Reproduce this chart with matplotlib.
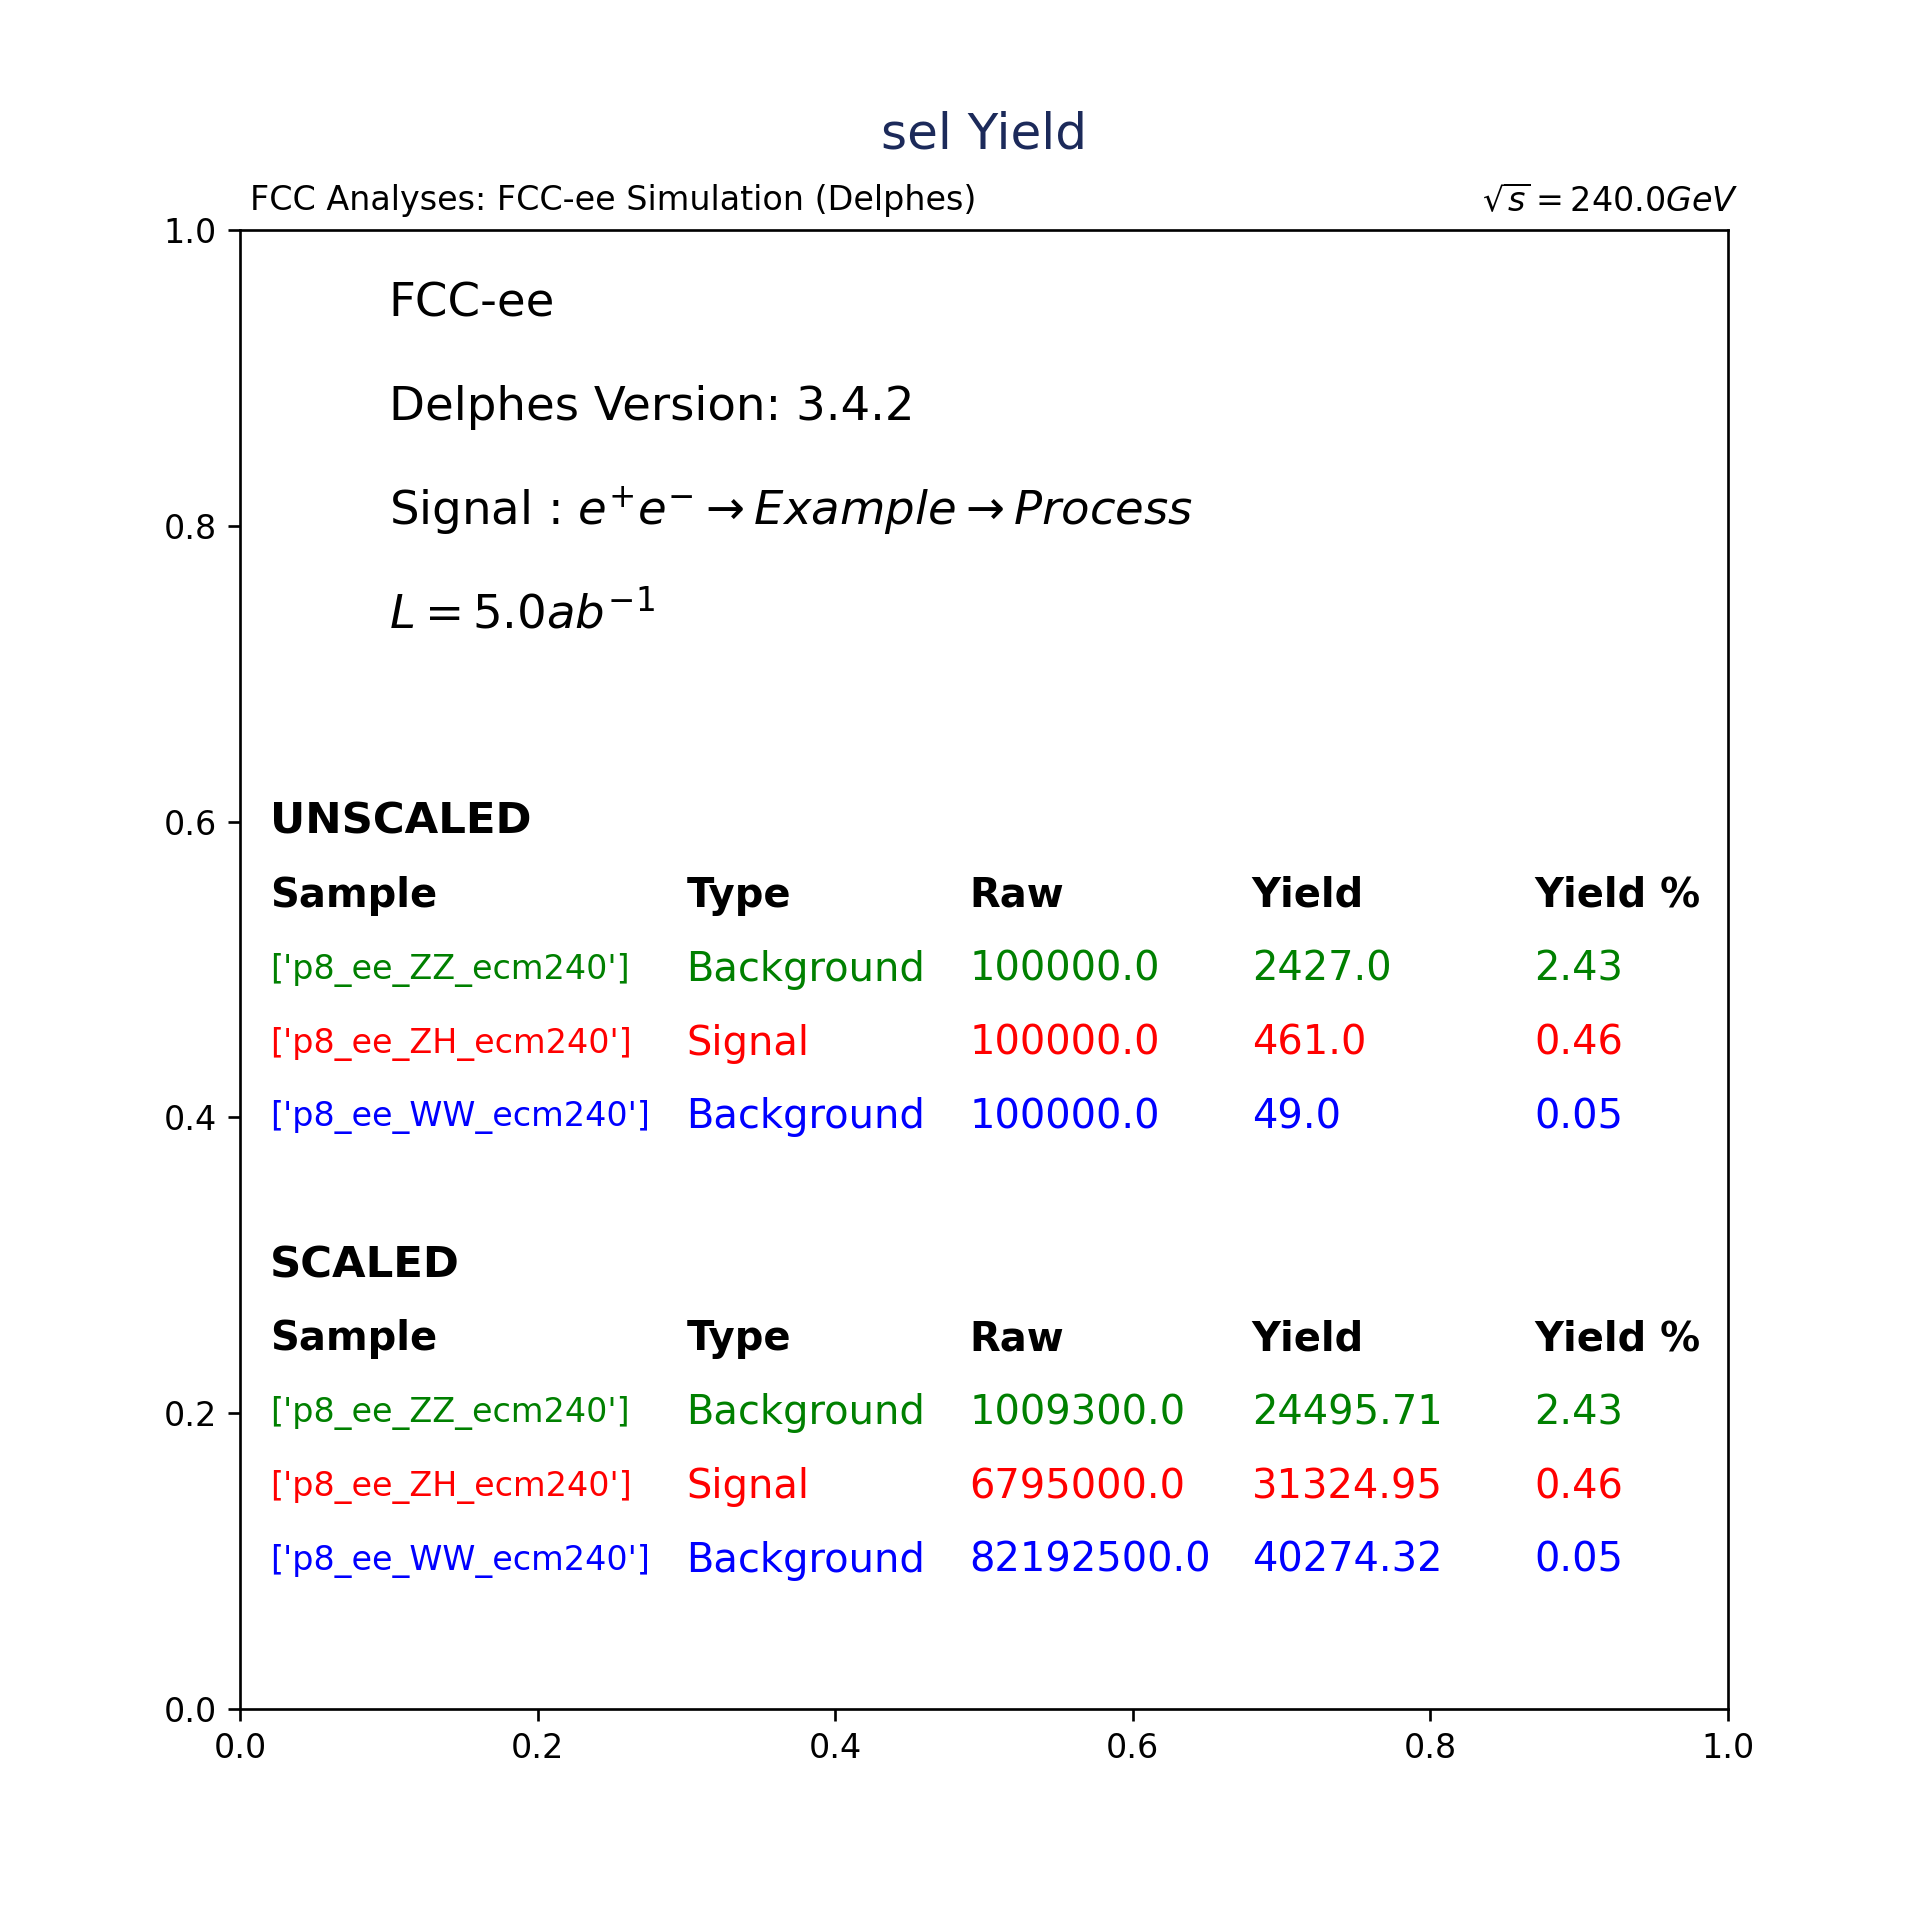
import matplotlib
matplotlib.use("Agg")
import matplotlib.pyplot as plt

# ── data ─────────────────────────────────────────────────────────────────────
samples = ["['p8_ee_ZZ_ecm240']", "['p8_ee_ZH_ecm240']", "['p8_ee_WW_ecm240']"]
types = ["Background", "Signal", "Background"]
unscaled_raw = [100000.0, 100000.0, 100000.0]
unscaled_yield = [2427.0, 461.0, 49.0]
scaled_raw = [1009300.0, 6795000.0, 82192500.0]
scaled_yield = [24495.71, 31324.95, 40274.32]
yield_pct = [2.43, 0.46, 0.05]
columns = ["Sample", "Type", "Raw", "Yield", "Yield %"]

info_lines = [
    "FCC-ee",
    "Delphes Version: 3.4.2",
    r"Signal : $e^{+}e^{-} \rightarrow Example \rightarrow Process$",
    r"$L = 5.0 ab^{-1}$",
]

row_colors = ["green", "red", "blue"]

# ── figure ───────────────────────────────────────────────────────────────────
fig, ax = plt.subplots(figsize=(8, 8))
ax.set_xlim(0, 1)
ax.set_ylim(0, 1)

ax.set_title("sel Yield", fontsize=15, color="#1c2a5a", pad=24.5)
ax.text(0.0065, 1.009, "FCC Analyses: FCC-ee Simulation (Delphes)",
        fontsize=10, va="bottom", ha="left", transform=ax.transAxes)
ax.text(1.007, 1.008, r"$\sqrt{s} = 240.0 GeV$",
        fontsize=10, va="bottom", ha="right", transform=ax.transAxes)

for i, line in enumerate(info_lines):
    ax.text(0.1, 0.95 - 0.07 * i, line, fontsize=14, va="center")

col_x = [0.02, 0.30, 0.49, 0.68, 0.87]


def draw_block(y0, label, raws, yields):
    ax.text(col_x[0], y0, label, fontsize=13, fontweight="bold", va="center")
    for cx, name in zip(col_x, columns):
        ax.text(cx, y0 - 0.05, name, fontsize=12, fontweight="bold", va="center")
    for r in range(len(samples)):
        y = y0 - 0.10 - 0.05 * r
        c = row_colors[r]
        ax.text(col_x[0], y, samples[r], fontsize=10, color=c, va="center")
        cells = [types[r], str(raws[r]), str(yields[r]), str(yield_pct[r])]
        for cx, val in zip(col_x[1:], cells):
            ax.text(cx, y, val, fontsize=12, color=c, va="center")


draw_block(0.60, "UNSCALED", unscaled_raw, unscaled_yield)
draw_block(0.30, "SCALED", scaled_raw, scaled_yield)

fig.savefig("out.png", dpi=240)
plt.close(fig)
